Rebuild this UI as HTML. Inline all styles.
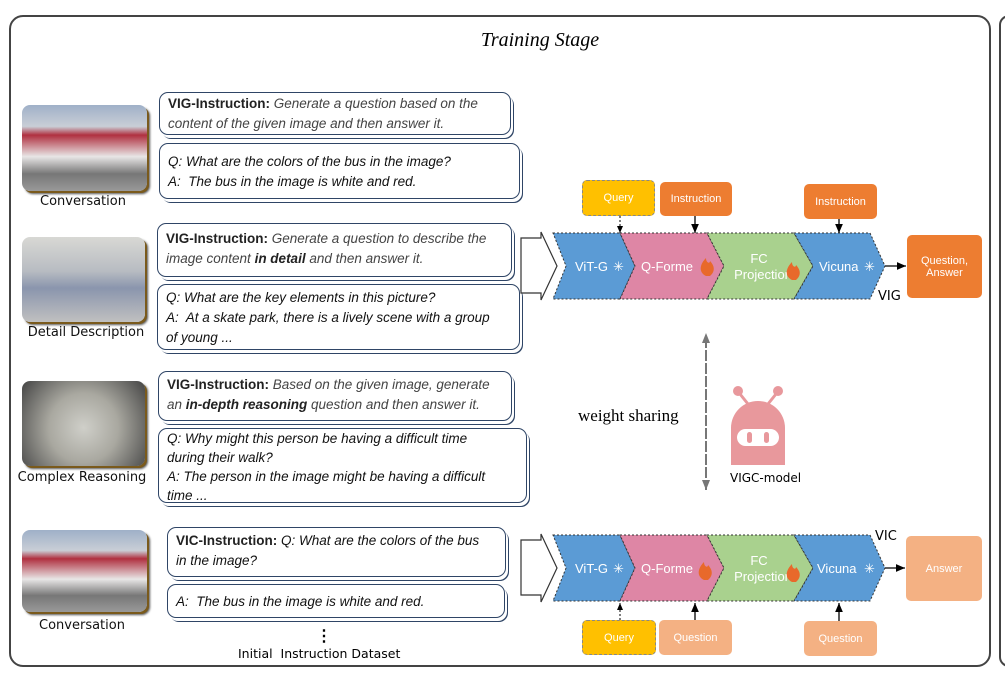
<!DOCTYPE html>
<html><head><meta charset="utf-8"><style>
body{margin:0;width:1005px;height:684px;background:#fff;position:relative;overflow:hidden;font-family:"Liberation Sans",sans-serif}
.a{position:absolute}
.box{position:absolute;border:1.5px solid #2f4566;border-radius:9px;background:#fff;box-shadow:2px 3px 0 #fff,3px 4px 0 #2f4566;font-family:"Liberation Sans",sans-serif;font-style:italic;font-size:13.5px;line-height:20px;color:#444;padding:0 8px;box-sizing:border-box;white-space:nowrap}
.qa{color:#111}
.box b.h{font-style:normal;color:#222;font-weight:bold}
.img{position:absolute;border-radius:8px;box-shadow:2px 2px 0 #7a5a1c,3px 3px 2px #555}
.lab{position:absolute;font-family:"DejaVu Sans",sans-serif;font-size:13px;color:#111;text-align:center;width:160px}
.ob{position:absolute;border-radius:5px;color:#fff;font-size:11px;display:flex;align-items:center;justify-content:center;text-align:center}
</style></head><body>
<div class="a" style="left:9px;top:15px;width:982px;height:652px;border:2px solid #444;border-radius:14px;box-sizing:border-box"></div>
<div class="a" style="left:999px;top:15px;width:20px;height:652px;border:2px solid #444;border-radius:10px;box-sizing:border-box"></div>
<div class="a" style="left:440px;top:29px;width:200px;text-align:center;font-family:'Liberation Serif',serif;font-style:italic;font-size:20px">Training Stage</div>

<div class="img" style="left:22px;top:105px;width:125px;height:86px;background:linear-gradient(180deg,#9fb0c8 0,#c9ced6 25%,#b03040 35%,#e8e6e6 60%,#777 80%,#999 100%)"></div>
<div class="img" style="left:22px;top:237px;width:123px;height:85px;background:linear-gradient(180deg,#d8d8d4 0,#b8bcc2 40%,#8a95ad 60%,#c0c0c0 100%)"></div>
<div class="img" style="left:22px;top:381px;width:123px;height:85px;background:radial-gradient(circle at 50% 55%,#cfcfc9 0,#a9a8a0 45%,#444 100%)"></div>
<div class="img" style="left:22px;top:530px;width:125px;height:82px;background:linear-gradient(180deg,#9fb0c8 0,#c9ced6 25%,#b03040 35%,#e8e6e6 60%,#777 80%,#999 100%)"></div>
<div class="lab" style="left:3px;top:194px">Conversation</div>
<div class="lab" style="left:6px;top:325px">Detail Description</div>
<div class="lab" style="left:2px;top:470px">Complex Reasoning</div>
<div class="lab" style="left:2px;top:618px">Conversation</div>

<div class="box" style="left:159px;top:92px;width:352px;height:43px;padding-top:1px"><b class="h">VIG-Instruction:</b> Generate a question based on the<br>content of the given image and then answer it.</div>
<div class="box qa" style="left:159px;top:143px;width:361px;height:56px;padding-top:8px">Q: What are the colors of the bus in the image?<br>A:&nbsp; The bus in the image is white and red.</div>
<div class="box" style="left:157px;top:223px;width:355px;height:54px;padding-top:5px"><b class="h">VIG-Instruction:</b> Generate a question to describe the<br>image content <b style="color:#222">in detail</b> and then answer it.</div>
<div class="box qa" style="left:157px;top:284px;width:363px;height:66px;padding-top:3px">Q: What are the key elements in this picture?<br>A:&nbsp; At a skate park, there is a lively scene with a group<br>of young ...</div>
<div class="box" style="left:158px;top:371px;width:354px;height:50px;padding-top:3px"><b class="h">VIG-Instruction:</b> Based on the given image, generate<br>an <b style="color:#222">in-depth reasoning</b> question and then answer it.</div>
<div class="box qa" style="left:158px;top:428px;width:369px;height:75px;padding-top:0px;line-height:19px">Q: Why might this person be having a difficult time<br>during their walk?<br>A: The person in the image might be having a difficult<br>time ...</div>
<div class="box qa" style="left:167px;top:527px;width:339px;height:50px;padding-top:3px"><b class="h">VIC-Instruction:</b> Q: What are the colors of the bus<br>in the image?</div>
<div class="box qa" style="left:167px;top:584px;width:338px;height:34px;padding-top:7px">A:&nbsp; The bus in the image is white and red.</div>
<div class="a" style="left:316px;top:626px;font-size:16px;font-weight:bold">⋮</div>
<div class="a" style="left:238px;top:646px;font-family:'DejaVu Sans',sans-serif;font-size:12.5px">Initial&nbsp; Instruction Dataset</div>

<svg class="a" style="left:0;top:0" width="1005" height="684">
<defs><marker id="ar" markerWidth="8" markerHeight="8" refX="7" refY="4" orient="auto"><path d="M0,1 L7,4 L0,7z" fill="#000"/></marker>
<marker id="ag" markerWidth="6" markerHeight="6" refX="5" refY="3" orient="auto"><path d="M0,1 L5,3 L0,5z" fill="#777"/></marker></defs>
<g id="pipe">
<path d="M521,238 H541 V232 L557,266 L541,300 V293 H521z" fill="#fff" stroke="#333" stroke-width="1.2"/>
<polygon points="553,233 620,233 635,266 620,299 553,299 566,266" fill="#5b9bd5" stroke="#333" stroke-dasharray="2,2"/>
<polygon points="620,233 707,233 724,266 707,299 620,299 635,266" fill="#de86a5" stroke="#333" stroke-dasharray="2,2"/>
<polygon points="707,233 794,233 813,266 794,299 707,299 724,266" fill="#a9d18e" stroke="#333" stroke-dasharray="2,2"/>
<polygon points="794,233 870,233 885,266 870,299 794,299 813,266" fill="#5b9bd5" stroke="#333" stroke-dasharray="2,2"/>
</g>
<use href="#pipe" transform="translate(0,302)"/>
<g font-size="13" fill="#fff" font-family="Liberation Sans,sans-serif">
<text x="575" y="271">ViT-G</text><text x="641" y="271">Q-Forme</text><text x="759" y="263" text-anchor="middle">FC</text><text x="763" y="279" text-anchor="middle">Projection</text><text x="819" y="271">Vicuna</text>
<text x="575" y="573">ViT-G</text><text x="641" y="573">Q-Forme</text><text x="759" y="565" text-anchor="middle">FC</text><text x="763" y="581" text-anchor="middle">Projection</text><text x="817" y="573">Vicuna</text>
</g>
<g fill="#e8692b"><path d="M706,276 c-8,-4 -6,-12 0,-18 c0,5 4,6 4,3 c4,4 6,10 0,15z"/><path d="M792,280 c-8,-4 -6,-12 0,-18 c0,5 4,6 4,3 c4,4 6,10 0,15z"/>
<path d="M704,580 c-8,-4 -6,-12 0,-18 c0,5 4,6 4,3 c4,4 6,10 0,15z"/><path d="M792,582 c-8,-4 -6,-12 0,-18 c0,5 4,6 4,3 c4,4 6,10 0,15z"/></g>
<g fill="#fff" font-size="13"><text x="613" y="271">✳</text><text x="864" y="271">✳</text><text x="613" y="573">✳</text><text x="864" y="573">✳</text></g>
<line x1="620" y1="216" x2="620" y2="233" stroke="#000" stroke-dasharray="2,2" marker-end="url(#ar)"/>
<line x1="695" y1="216" x2="695" y2="233" stroke="#000" stroke-width="1.3" marker-end="url(#ar)"/>
<line x1="839" y1="219" x2="839" y2="233" stroke="#000" stroke-width="1.3" marker-end="url(#ar)"/>
<line x1="885" y1="266" x2="906" y2="266" stroke="#000" stroke-width="1.3" marker-end="url(#ar)"/>
<line x1="620" y1="620" x2="620" y2="603" stroke="#000" stroke-dasharray="2,2" marker-end="url(#ar)"/>
<line x1="695" y1="620" x2="695" y2="603" stroke="#000" stroke-width="1.3" marker-end="url(#ar)"/>
<line x1="839" y1="621" x2="839" y2="603" stroke="#000" stroke-width="1.3" marker-end="url(#ar)"/>
<line x1="885" y1="568" x2="905" y2="568" stroke="#000" stroke-width="1.3" marker-end="url(#ar)"/>
<line x1="706" y1="488" x2="706" y2="333" stroke="#777" stroke-width="2" stroke-dasharray="8,5" marker-end="url(#ag)"/>
<line x1="706" y1="340" x2="706" y2="490" stroke="#777" stroke-width="2" stroke-dasharray="8,5" marker-end="url(#ag)"/>
<g fill="#e8989c"><circle cx="738" cy="391" r="5"/><circle cx="778" cy="391" r="5"/>
<line x1="740" y1="394" x2="748" y2="404" stroke="#e8989c" stroke-width="3"/><line x1="776" y1="394" x2="768" y2="404" stroke="#e8989c" stroke-width="3"/>
<path d="M731,465 V428 a27,27 0 0 1 54,0 V465z"/></g>
<rect x="737" y="429" width="42" height="17" rx="8.5" fill="#fff"/>
<rect x="747" y="432" width="5" height="11" rx="2.5" fill="#e8989c"/><rect x="764" y="432" width="5" height="11" rx="2.5" fill="#e8989c"/>
</svg>
<div class="a" style="left:578px;top:406px;font-family:'Liberation Serif',serif;font-size:17px">weight sharing</div>
<div class="a" style="left:730px;top:471px;font-family:'DejaVu Sans',sans-serif;font-size:12px">VIGC-model</div>
<div class="a" style="left:878px;top:289px;font-family:'DejaVu Sans',sans-serif;font-size:13px">VIG</div>
<div class="a" style="left:875px;top:529px;font-family:'DejaVu Sans',sans-serif;font-size:13px">VIC</div>

<div class="ob" style="left:582px;top:180px;width:73px;height:36px;background:#ffc000;border:1px dashed #888;box-sizing:border-box">Query</div>
<div class="ob" style="left:660px;top:182px;width:72px;height:34px;background:#ed7d31">Instruction</div>
<div class="ob" style="left:804px;top:184px;width:73px;height:35px;background:#ed7d31">Instruction</div>
<div class="ob" style="left:907px;top:235px;width:75px;height:63px;background:#ed7d31">Question,<br>Answer</div>
<div class="ob" style="left:582px;top:620px;width:74px;height:35px;background:#ffc000;border:1px dashed #888;box-sizing:border-box">Query</div>
<div class="ob" style="left:659px;top:620px;width:73px;height:35px;background:#f4b183">Question</div>
<div class="ob" style="left:804px;top:621px;width:73px;height:35px;background:#f4b183">Question</div>
<div class="ob" style="left:906px;top:536px;width:76px;height:65px;background:#f4b183">Answer</div>
</body></html>
